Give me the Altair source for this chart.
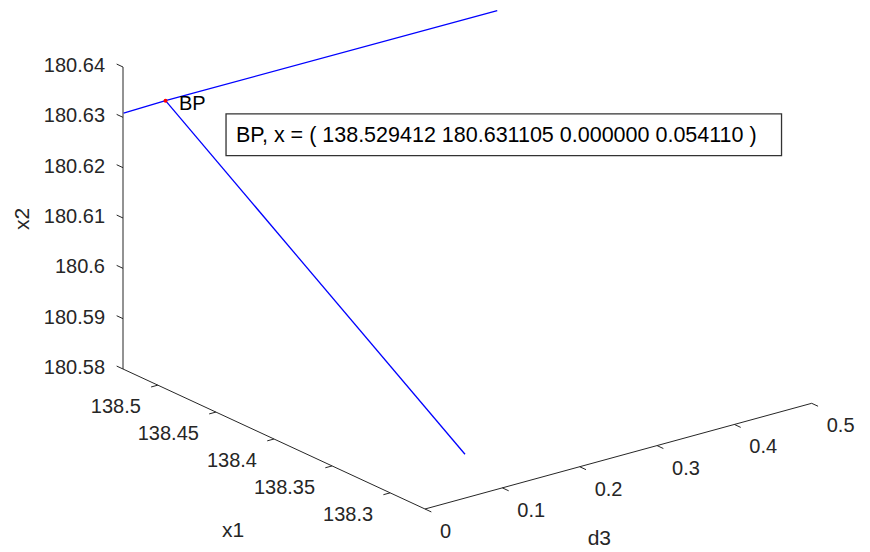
import altair as alt
import pandas as pd
import numpy as np

# ---------------- data ----------------
X1_LIM = [138.27, 138.53]
X2_LIM = [180.58, 180.64]
D3_LIM = [0.0, 0.5]

X1_TICKS = [138.3, 138.35, 138.4, 138.45, 138.5]
X1_LABELS = ["138.3", "138.35", "138.4", "138.45", "138.5"]
X2_TICKS = [180.58, 180.59, 180.60, 180.61, 180.62, 180.63, 180.64]
X2_LABELS = ["180.58", "180.59", "180.6", "180.61", "180.62", "180.63", "180.64"]
D3_TICKS = [0.0, 0.1, 0.2, 0.3, 0.4, 0.5]
D3_LABELS = ["0", "0.1", "0.2", "0.3", "0.4", "0.5"]

# trivial branch (through BP, d3 varies)
TRIV_X1 = [138.5295, 138.529412, 138.5294]
TRIV_X2 = [180.6309, 180.631105, 180.6310]
TRIV_D3 = [0.0, 0.054110, 0.483]
# branch emanating from BP
NT_X1 = [138.529412, 138.27]
NT_X2 = [180.631105, 180.5887]
NT_D3 = [0.054110, 0.0517]

BP_X = [138.529412, 180.631105, 0.000000, 0.054110]
BP_TEXT = "BP, x = ( " + " ".join(f"{v:.6f}" for v in BP_X) + " )"

# ---------------- 3-D view (oblique camera) ----------------
W, H = 870, 552
ORIGIN = (123.0, 369.0)          # screen point of (x1 max, d3 min, x2 min)
U_X1 = (302.0, 140.0)            # screen vector along x1 (max -> min)
V_D3 = (386.7, -105.7)           # screen vector along d3 (min -> max)
W_X2 = (0.0, -302.0)             # screen vector along x2 (min -> max)
TICK_LEN = 7.0


def project(x1, d3, x2):
    x1 = np.asarray(x1, float); d3 = np.asarray(d3, float); x2 = np.asarray(x2, float)
    u = (X1_LIM[1] - x1) / (X1_LIM[1] - X1_LIM[0])
    v = (d3 - D3_LIM[0]) / (D3_LIM[1] - D3_LIM[0])
    w = (x2 - X2_LIM[0]) / (X2_LIM[1] - X2_LIM[0])
    sx = ORIGIN[0] + u * U_X1[0] + v * V_D3[0] + w * W_X2[0]
    sy = ORIGIN[1] + u * U_X1[1] + v * V_D3[1] + w * W_X2[1]
    return sx, sy


def unit(vec, sign=1.0):
    n = np.hypot(*vec)
    return (sign * vec[0] / n, sign * vec[1] / n)


# axis lines
ax_ends = [
    ((X1_LIM[1], D3_LIM[0], X2_LIM[0]), (X1_LIM[1], D3_LIM[0], X2_LIM[1])),  # x2 axis
    ((X1_LIM[1], D3_LIM[0], X2_LIM[0]), (X1_LIM[0], D3_LIM[0], X2_LIM[0])),  # x1 axis
    ((X1_LIM[0], D3_LIM[0], X2_LIM[0]), (X1_LIM[0], D3_LIM[1], X2_LIM[0])),  # d3 axis
]
rows = []
for a, b in ax_ends:
    sx, sy = project(a[0], a[1], a[2])
    ex, ey = project(b[0], b[1], b[2])
    rows.append(dict(sx=float(sx), sy=float(sy), sx2=float(ex), sy2=float(ey)))
axes_df = pd.DataFrame(rows)

# ticks (pointing outward from the box)
tick_rows, lab_x1, lab_x2, lab_d3 = [], [], [], []
dir_x2 = unit(U_X1, -1.0)
dir_x1 = unit(V_D3, -1.0)
dir_d3 = unit(U_X1, 1.0)
for t, lab in zip(X2_TICKS, X2_LABELS):
    sx, sy = project(X1_LIM[1], D3_LIM[0], t)
    tick_rows.append(dict(sx=float(sx), sy=float(sy), sx2=float(sx + TICK_LEN * dir_x2[0]), sy2=float(sy + TICK_LEN * dir_x2[1])))
    lab_x2.append(dict(sx=float(sx), sy=float(sy), label=lab))
for t, lab in zip(X1_TICKS, X1_LABELS):
    sx, sy = project(t, D3_LIM[0], X2_LIM[0])
    tick_rows.append(dict(sx=float(sx), sy=float(sy), sx2=float(sx + TICK_LEN * dir_x1[0]), sy2=float(sy + TICK_LEN * dir_x1[1])))
    lab_x1.append(dict(sx=float(sx), sy=float(sy), label=lab))
for t, lab in zip(D3_TICKS, D3_LABELS):
    sx, sy = project(X1_LIM[0], t, X2_LIM[0])
    tick_rows.append(dict(sx=float(sx), sy=float(sy), sx2=float(sx + TICK_LEN * dir_d3[0]), sy2=float(sy + TICK_LEN * dir_d3[1])))
    lab_d3.append(dict(sx=float(sx), sy=float(sy), label=lab))
ticks_df = pd.DataFrame(tick_rows)

# axis titles at axis mid-points
mx, my = project(np.mean(X1_LIM), D3_LIM[0], X2_LIM[0])
t_x1 = pd.DataFrame([dict(sx=float(mx), sy=float(my), label="x1")])
mx, my = project(X1_LIM[0], np.mean(D3_LIM), X2_LIM[0])
t_d3 = pd.DataFrame([dict(sx=float(mx), sy=float(my), label="d3")])
mx, my = project(X1_LIM[1], D3_LIM[0], np.mean(X2_LIM))
t_x2 = pd.DataFrame([dict(sx=float(mx), sy=float(my), label="x2")])

# curves
line_rows = []
for name, xs1, xs2, ds in [("trivial", TRIV_X1, TRIV_X2, TRIV_D3), ("branch", NT_X1, NT_X2, NT_D3)]:
    sx, sy = project(xs1, ds, xs2)
    for i in range(len(sx)):
        line_rows.append(dict(branch=name, i=i, sx=float(sx[i]), sy=float(sy[i])))
lines_df = pd.DataFrame(line_rows)

bx, by = project(BP_X[0], BP_X[3], BP_X[1])
bp_df = pd.DataFrame([dict(sx=float(bx), sy=float(by), label="BP", note=BP_TEXT)])
box_df = pd.DataFrame([dict(sx=float(bx) + 60.5, sy=float(by) + 13.3,
                            sx2=float(bx) + 616.0, sy2=float(by) + 55.0,
                            tx=float(bx) + 70.5, ty=float(by) + 41.0, note=BP_TEXT)])

# ---------------- chart ----------------
XS = alt.Scale(domain=[0, W], nice=False, zero=False)
YS = alt.Scale(domain=[H, 0], nice=False, zero=False)
FONT = "Liberation Sans"
AX_COL = "#262626"


def xy(xf="sx", yf="sy"):
    return dict(x=alt.X(f"{xf}:Q", scale=XS, axis=None), y=alt.Y(f"{yf}:Q", scale=YS, axis=None))


axes_layer = alt.Chart(axes_df).mark_rule(color=AX_COL, strokeWidth=1).encode(
    **xy(), x2="sx2:Q", y2="sy2:Q")
ticks_layer = alt.Chart(ticks_df).mark_rule(color=AX_COL, strokeWidth=1).encode(
    **xy(), x2="sx2:Q", y2="sy2:Q")

lab_x2_layer = alt.Chart(pd.DataFrame(lab_x2)).mark_text(
    font=FONT, fontSize=20, color=AX_COL, align="right", baseline="middle", dx=-18, dy=-1
).encode(**xy(), text="label:N")
lab_x1_layer = alt.Chart(pd.DataFrame(lab_x1)).mark_text(
    font=FONT, fontSize=20, color=AX_COL, align="right", baseline="middle", dx=-17, dy=22
).encode(**xy(), text="label:N")
lab_d3_layer = alt.Chart(pd.DataFrame(lab_d3)).mark_text(
    font=FONT, fontSize=20, color=AX_COL, align="left", baseline="middle", dx=15, dy=23
).encode(**xy(), text="label:N")

title_x1 = alt.Chart(t_x1).mark_text(
    font=FONT, fontSize=21, color=AX_COL, align="center", baseline="alphabetic", dx=-41, dy=98
).encode(**xy(), text="label:N")
title_d3 = alt.Chart(t_d3).mark_text(
    font=FONT, fontSize=21, color=AX_COL, align="center", baseline="alphabetic", dx=-19, dy=89
).encode(**xy(), text="label:N")
title_x2 = alt.Chart(t_x2).mark_text(
    font=FONT, fontSize=21, color=AX_COL, align="center", baseline="alphabetic", angle=270, dx=-1, dy=-94
).encode(**xy(), text="label:N")

lines_layer = alt.Chart(lines_df).mark_line(color="#0000FF", strokeWidth=1.3).encode(
    **xy(), detail="branch:N", order="i:Q")

bp_point = alt.Chart(bp_df).mark_point(filled=True, color="#FF0000", size=16, opacity=1).encode(**xy())
bp_label = alt.Chart(bp_df).mark_text(
    font=FONT, fontSize=20, color="#000000", align="left", baseline="alphabetic", dx=13.5, dy=9.3
).encode(**xy(), text="label:N")

box_layer = alt.Chart(box_df).mark_rect(fill="#FFFFFF", stroke="#333333", strokeWidth=1.3).encode(
    **xy(), x2="sx2:Q", y2="sy2:Q")
box_text = alt.Chart(box_df).mark_text(
    font=FONT, fontSize=21.5, color="#000000", align="left", baseline="alphabetic"
).encode(x=alt.X("tx:Q", scale=XS, axis=None), y=alt.Y("ty:Q", scale=YS, axis=None), text="note:N")

chart = alt.layer(
    axes_layer, ticks_layer, lab_x2_layer, lab_x1_layer, lab_d3_layer,
    title_x1, title_d3, title_x2, lines_layer, bp_point, bp_label, box_layer, box_text
).properties(
    width=W, height=H, padding=0, autosize=alt.AutoSizeParams(type="none"), background="#FFFFFF"
).configure_view(stroke=None)

chart.save("out.html", embed_options={"renderer": "svg", "actions": False})
